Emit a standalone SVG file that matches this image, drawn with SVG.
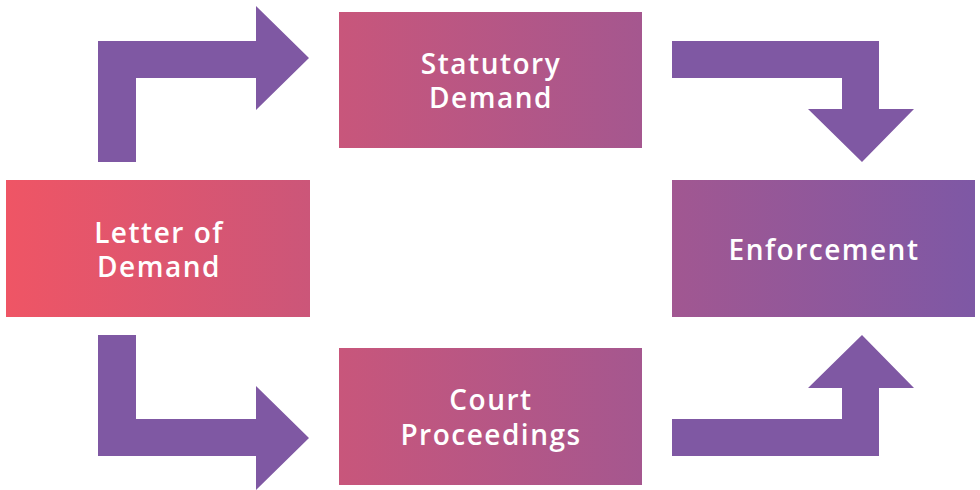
<svg xmlns="http://www.w3.org/2000/svg" width="980" height="490" viewBox="0 0 980 490">
<defs>
<linearGradient id="g" gradientUnits="userSpaceOnUse" x1="6" y1="0" x2="975" y2="0">
<stop offset="0" stop-color="#EF5565"/>
<stop offset="1" stop-color="#7E58A5"/>
</linearGradient>
<style>
.box{fill:url(#g);}
.arr{fill:#7F58A3;}
.lbl{font-family:"Open Sans","Liberation Sans",sans-serif;font-weight:600;font-size:28px;letter-spacing:1.5px;fill:#ffffff;text-anchor:middle;}
</style>
</defs>
<rect width="980" height="490" fill="#ffffff"/>
<g id="connectors">
<polygon class="arr" points="98,162 98,41 256,41 256,6 309,58 256,110 256,78 136,78 136,162"/>
<polygon class="arr" points="98,335 136,335 136,419 256,419 256,386 309,438 256,490 256,456 98,456"/>
<polygon class="arr" points="672,41 879,41 879,109 914,109 862,162 808,109 842,109 842,78 672,78"/>
<polygon class="arr" points="672,456 879,456 879,388 914,388 862,335 808,388 842,388 842,419 672,419"/>
</g>
<g id="letter">
<rect class="box" x="6" y="180" width="304" height="137"/>
<text class="lbl" x="159" y="243">Letter of</text>
<text class="lbl" x="159" y="277">Demand</text>
</g>
<g id="statutory">
<rect class="box" x="339" y="12" width="303" height="136"/>
<text class="lbl" x="491" y="74">Statutory</text>
<text class="lbl" x="491" y="108">Demand</text>
</g>
<g id="court">
<rect class="box" x="339" y="348" width="303" height="137"/>
<text class="lbl" x="491" y="410">Court</text>
<text class="lbl" x="491" y="445">Proceedings</text>
</g>
<g id="enforcement">
<rect class="box" x="672" y="180" width="303" height="137"/>
<text class="lbl" x="824" y="260">Enforcement</text>
</g>
</svg>
